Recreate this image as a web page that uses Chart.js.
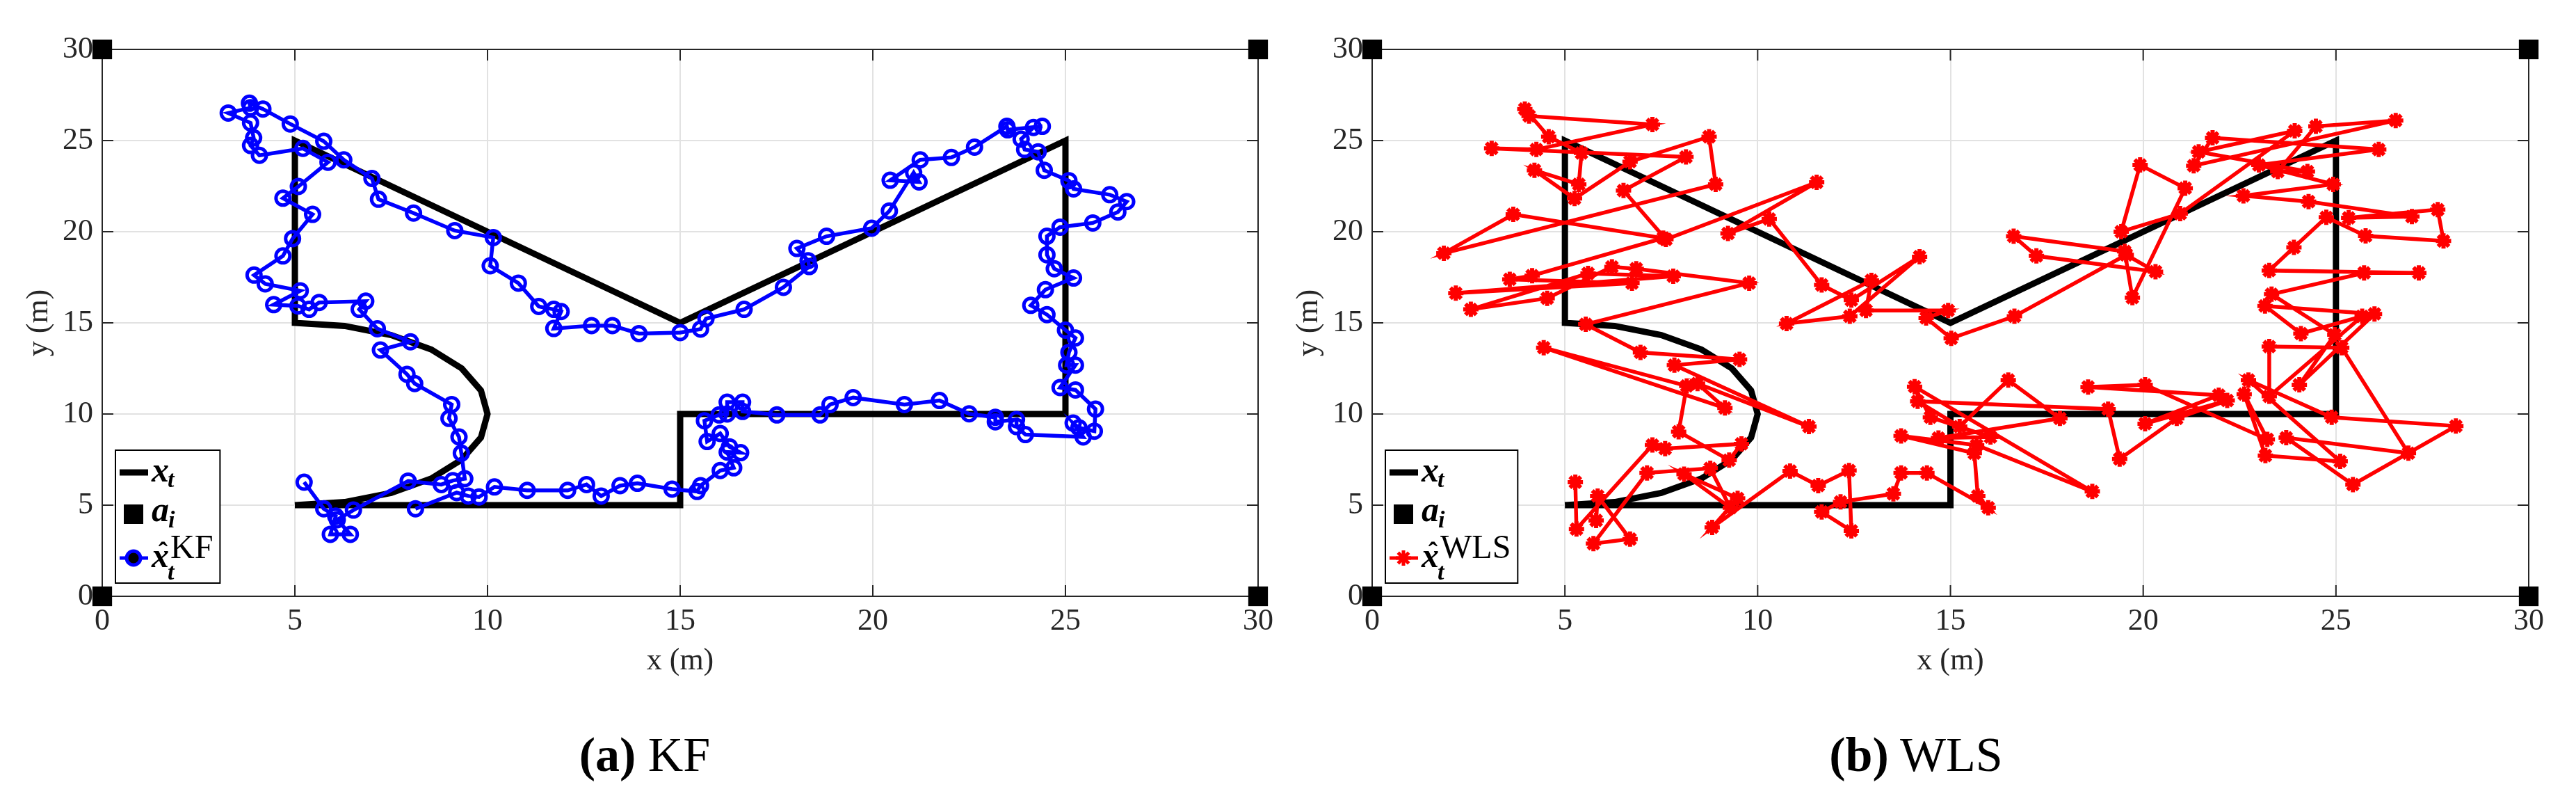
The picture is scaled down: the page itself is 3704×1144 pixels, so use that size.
<!DOCTYPE html>
<html>
<head>
<meta charset="utf-8">
<script src="https://cdn.jsdelivr.net/npm/chart.js@4.4.1/dist/chart.umd.min.js"></script>
<style>
  html, body { margin: 0; padding: 0; background: #fff; }
  body { width: 3704px; height: 1144px; position: relative; overflow: hidden; }
  canvas { position: absolute; top: 0; }
  #kf-chart { left: 0; }
  #wls-chart { left: 1860px; }
  .caption {
    position: absolute; top: 1040px; line-height: 90px;
    font-family: "Liberation Serif", "Times New Roman", serif; font-size: 70px;
    color: #000; white-space: nowrap; transform: translateX(-50%);
  }
</style>
</head>
<body>
<canvas id="kf-chart" width="1860" height="1144"></canvas>
<canvas id="wls-chart" width="1844" height="1144"></canvas>
<div class="caption" style="left:927px"><b>(a)</b> KF</div>
<div class="caption" style="left:2755px"><b>(b)</b> WLS</div>
<script>
// tick positions for both axes
const tickValues = [0, 5, 10, 15, 20, 25, 30];

// true trajectory x_t (corners + the half circle)
const truthX = [5, 15, 15, 25, 25, 15, 5, 5, 6.29, 7.5, 8.54, 9.33, 9.83, 10, 9.83, 9.33, 8.54, 7.5, 6.29, 5];
const truthY = [5, 5, 10, 10, 25, 15, 25, 15, 14.83, 14.33, 13.54, 12.5, 11.29, 10, 8.71, 7.5, 6.46, 5.67, 5.17, 5];

// anchors a_i
const anchorX = [0, 0, 30, 30];
const anchorY = [0, 30, 0, 30];

// KF estimate
const kfX = [8.13,9.20,9.50,9.78,10.18,11.03,12.08,12.57,12.95,13.44,
  13.89,14.79,15.44,15.53,16.04,16.39,16.22,16.57,16.28,16.04,
  15.70,15.63,16.01,16.22,16.22,16.62,16.62,17.51,18.63,18.89,
  19.49,20.82,21.73,22.50,23.18,23.18,23.73,23.73,23.96,25.46,
  25.20,25.35,25.75,25.78,25.26,24.86,25.26,25.03,25.09,25.26,
  25.00,24.52,24.10,24.48,25.21,24.71,24.52,24.52,24.86,25.71,
  26.36,26.59,26.15,25.21,25.09,24.45,24.29,23.94,23.85,24.17,
  24.40,23.50,23.48,22.64,22.04,21.23,20.45,21.20,21.06,20.43,
  19.97,18.80,18.03,18.32,18.35,17.68,16.66,15.67,15.53,15.00,
  13.93,13.24,12.70,11.72,11.91,11.72,11.33,10.80,10.07,10.15,
  9.15,8.08,7.17,7.00,6.27,5.75,4.88,4.17,3.82,3.85,
  3.27,3.85,3.93,3.85,4.08,5.21,5.86,5.09,4.69,5.46,
  4.94,4.69,3.94,4.23,5.14,4.45,5.08,5.37,5.63,6.84,
  6.67,7.14,8.00,7.22,7.91,8.11,9.07,9.00,9.26,9.32,
  9.41,9.10,8.80,7.94,6.52,6.10,6.44,5.92,6.06,5.75,
  5.24];
const kfY = [4.80,5.69,5.50,5.45,6.00,5.81,5.81,6.13,5.50,6.07,
  6.20,5.88,5.75,6.07,6.90,7.05,7.91,7.88,8.20,8.93,
  8.49,9.63,9.95,10.00,10.65,10.65,10.14,9.95,9.95,10.52,
  10.90,10.52,10.74,10.01,9.82,9.57,9.69,9.31,8.87,8.74,
  9.50,9.25,9.06,10.27,11.32,11.45,12.68,12.68,13.38,14.17,
  14.60,15.45,15.96,16.82,17.46,17.97,18.73,19.75,20.25,20.48,
  21.08,21.65,22.03,22.35,22.80,23.37,24.38,24.51,25.08,25.72,
  25.78,25.59,25.78,24.64,24.07,23.94,22.82,22.73,23.24,21.14,
  20.19,19.75,19.08,18.41,18.09,16.95,15.74,15.23,14.66,14.47,
  14.41,14.85,14.85,14.69,15.62,15.74,15.90,17.18,18.13,19.68,
  20.06,21.02,21.78,22.92,23.94,24.96,25.91,26.73,27.05,26.80,
  26.51,25.97,25.15,24.73,24.19,24.57,23.81,22.48,21.84,20.95,
  19.62,18.67,17.62,17.14,16.76,16.00,15.93,15.74,16.12,16.19,
  15.74,14.68,13.96,13.51,12.18,11.67,10.52,9.76,8.74,7.85,
  6.45,6.35,6.13,6.32,4.73,4.20,3.40,3.40,4.40,4.80,
  6.26];

// WLS estimate
const wlsX = [5.81,5.85,6.69,5.74,7.13,8.77,9.29,8.09,9.48,8.82,
  10.84,11.57,12.37,12.43,11.66,12.15,13.52,13.72,14.39,15.98,
  15.71,15.62,13.72,15.68,18.68,14.07,14.48,16.04,14.69,17.84,
  16.50,15.24,14.15,19.09,19.39,20.87,22.18,20.05,21.96,18.57,
  20.05,23.22,22.62,23.17,25.11,22.73,24.89,28.11,25.44,23.71,
  26.88,25.15,23.27,23.27,25.68,24.09,23.16,26.00,24.05,24.97,
  23.33,25.73,27.15,23.27,23.91,24.75,25.77,27.79,27.64,25.33,
  26.97,24.29,22.60,24.93,23.00,26.11,21.80,21.31,26.55,24.48,
  23.49,24.26,21.44,23.93,20.96,19.43,19.92,21.09,19.72,19.52,
  16.64,17.23,20.32,19.56,16.66,15.02,14.37,14.94,12.81,12.95,
  10.75,12.39,14.20,12.43,11.66,10.30,9.23,11.53,7.62,6.52,
  8.14,3.10,4.26,7.27,4.07,3.96,4.58,5.43,5.36,4.21,
  5.25,6.69,8.74,8.91,1.86,3.66,7.55,4.15,3.57,6.74,
  2.17,7.81,5.60,2.56,4.54,6.22,6.85,9.78,5.54,6.96,
  9.53,7.84,11.33,8.44,9.15,4.45,8.16,7.95,9.26,9.58,
  7.60,7.27,5.30,5.27];
const wlsY = [4.16,5.50,3.14,2.89,6.77,7.02,4.86,6.70,5.37,3.78,
  6.87,6.07,6.90,3.59,4.63,5.18,5.62,6.77,6.77,4.86,
  5.50,7.85,8.80,8.29,5.75,11.50,9.82,8.74,8.68,9.76,
  11.86,9.31,10.70,10.27,7.53,9.76,10.74,9.47,11.03,11.48,
  11.60,8.61,11.09,7.72,7.40,11.86,9.82,9.34,6.13,8.70,
  7.85,13.64,13.70,10.97,15.36,14.41,15.93,15.49,11.60,14.35,
  16.57,17.74,17.74,17.87,19.14,20.79,19.77,19.49,21.21,20.76,
  20.83,21.65,21.97,22.60,23.66,24.51,25.15,23.62,26.10,25.78,
  23.30,23.30,24.38,25.53,20.99,20.00,23.66,22.39,16.38,18.92,
  19.75,18.67,17.81,18.73,15.36,14.15,15.27,15.68,15.68,17.33,
  14.96,15.36,18.63,16.25,17.08,20.70,19.90,22.71,19.58,22.26,
  24.10,24.57,24.51,25.88,26.35,26.73,25.21,24.32,22.60,23.37,
  21.82,23.84,25.21,22.60,18.82,20.95,19.65,17.59,17.39,17.18,
  16.63,17.56,17.71,15.74,16.35,18.07,17.97,17.18,14.92,13.38,
  13.00,12.68,9.31,11.67,10.33,13.64,11.54,9.03,7.47,8.36,
  8.10,8.30,3.69,6.26];

const serif = '"Liberation Serif", "Times New Roman", serif';
const tickFont = { family: serif, size: 44, lineHeight: 1 };
const textColor = '#262626';

function toPoints(xs, ys) {
    return xs.map((x, i) => ({ x: x, y: ys[i] }));
}

// box round the axes with inward ticks on all four sides
const framePlugin = {
    id: 'frame',
    beforeDatasetsDraw(chart) {
        const ctx = chart.ctx;
        const a = chart.chartArea;
        const sx = chart.scales.x, sy = chart.scales.y;
        ctx.save();
        ctx.strokeStyle = textColor;
        ctx.lineWidth = 2;
        ctx.strokeRect(a.left, a.top, a.right - a.left, a.bottom - a.top);
        ctx.beginPath();
        tickValues.forEach(v => {
            const px = sx.getPixelForValue(v);
            const py = sy.getPixelForValue(v);
            ctx.moveTo(px, a.bottom); ctx.lineTo(px, a.bottom - 16);
            ctx.moveTo(px, a.top); ctx.lineTo(px, a.top + 16);
            ctx.moveTo(a.left, py); ctx.lineTo(a.left + 16, py);
            ctx.moveTo(a.right, py); ctx.lineTo(a.right - 16, py);
        });
        ctx.stroke();
        ctx.restore();
    }
};

// legend with math style labels
const mathLegend = {
    id: 'mathLegend',
    afterDraw(chart, args, o) {
        const ctx = chart.ctx;
        const a = chart.chartArea;
        const left = a.left + 19, top = a.bottom - 210, h = 191;
        const tx = left + 52;
        ctx.save();
        ctx.font = '48px ' + serif;
        const supW = ctx.measureText(o.sup).width;
        ctx.font = 'bold italic 50px ' + serif;
        const xW = ctx.measureText('x').width;
        const boxW = tx + xW + 1 + supW + 11 - left;

        ctx.fillStyle = '#fff';
        ctx.fillRect(left, top, boxW, h);
        ctx.strokeStyle = '#000';
        ctx.lineWidth = 2;
        ctx.strokeRect(left, top, boxW, h);

        // x_t
        ctx.lineWidth = 9;
        ctx.beginPath();
        ctx.moveTo(left + 6, top + 32); ctx.lineTo(left + 47, top + 32);
        ctx.stroke();
        ctx.fillStyle = '#000';
        ctx.textAlign = 'left';
        ctx.textBaseline = 'alphabetic';
        ctx.font = 'bold italic 50px ' + serif;
        ctx.fillText('x', tx, top + 45);
        ctx.font = 'bold italic 34px ' + serif;
        ctx.fillText('t', tx + xW - 2, top + 53);

        // a_i
        ctx.fillRect(left + 12, top + 78, 28, 28);
        ctx.font = 'bold italic 50px ' + serif;
        const aW = ctx.measureText('a').width;
        ctx.fillText('a', tx, top + 102);
        ctx.font = 'bold italic 34px ' + serif;
        ctx.fillText('i', tx + aW - 1, top + 111);

        // estimate
        const ly = top + 155;
        ctx.strokeStyle = o.color;
        ctx.lineWidth = 5;
        ctx.beginPath();
        ctx.moveTo(left + 6, ly); ctx.lineTo(left + 47, ly);
        ctx.stroke();
        Chart.helpers.drawPoint(ctx, {
            pointStyle: o.marker, radius: o.radius, borderWidth: o.markerWidth, rotation: 0
        }, left + 26, ly);
        ctx.fillStyle = '#000';
        ctx.font = 'bold italic 50px ' + serif;
        ctx.fillText('x', tx, top + 168);
        ctx.textAlign = 'center';
        ctx.font = 'bold 40px ' + serif;
        ctx.fillText('\u02C6', tx + xW / 2 + 4, top + 160);
        ctx.textAlign = 'left';
        ctx.font = 'bold italic 34px ' + serif;
        ctx.fillText('t', tx + xW - 2, top + 186);
        ctx.font = '48px ' + serif;
        ctx.fillText(o.sup, tx + xW + 2, top + 155);
        ctx.restore();
    }
};

function makeChart(id, est, opts) {
    const ctx = document.getElementById(id).getContext('2d');
    return new Chart(ctx, {
        type: 'scatter',
        data: {
            datasets: [
                {
                    data: toPoints(anchorX, anchorY),
                    pointStyle: 'rect',
                    pointRadius: 20,
                    pointBackgroundColor: '#000',
                    pointBorderWidth: 0,
                    showLine: false,
                    clip: false,
                    order: 0
                },
                {
                    data: toPoints(est.x, est.y),
                    showLine: true,
                    borderColor: est.color,
                    borderWidth: 5.5,
                    pointStyle: est.marker,
                    pointRadius: est.radius,
                    pointBorderWidth: est.markerWidth,
                    pointBorderColor: est.color,
                    pointBackgroundColor: est.fill,
                    order: 1
                },
                {
                    data: toPoints(truthX, truthY),
                    showLine: true,
                    borderColor: '#000',
                    borderWidth: 9,
                    pointRadius: 0,
                    order: 2
                }
            ]
        },
        options: {
            responsive: false,
            animation: false,
            devicePixelRatio: 1,
            events: [],
            layout: { padding: { left: 0, right: opts.padRight, top: 71, bottom: 157 } },
            scales: {
                x: {
                    type: 'linear',
                    min: 0,
                    max: 30,
                    afterBuildTicks: s => { s.ticks = tickValues.map(v => ({ value: v })); },
                    afterFit: s => { s.height = 130; },
                    ticks: { font: tickFont, color: textColor, padding: 14, maxRotation: 0, autoSkip: false },
                    grid: { color: '#e2e2e2', lineWidth: 2, drawTicks: false },
                    border: { display: false },
                    title: { display: true, text: 'x (m)', font: tickFont, color: textColor,
                             padding: { top: 0, bottom: 15 } }
                },
                y: {
                    type: 'linear',
                    min: 0,
                    max: 30,
                    afterBuildTicks: s => { s.ticks = tickValues.map(v => ({ value: v })); },
                    afterFit: s => { s.width = opts.yWidth; },
                    ticks: { font: tickFont, color: textColor, padding: 13, autoSkip: false },
                    grid: { color: '#e2e2e2', lineWidth: 2, drawTicks: false },
                    border: { display: false },
                    title: { display: true, text: 'y (m)', font: tickFont, color: textColor,
                             padding: { top: opts.yTitlePad, bottom: 0 } }
                }
            },
            plugins: {
                legend: { display: false },
                tooltip: { enabled: false },
                mathLegend: {
                    sup: est.sup, color: est.color, marker: est.marker,
                    radius: est.radius, markerWidth: est.markerWidth
                }
            }
        },
        plugins: [framePlugin, mathLegend]
    });
}

const kfChart = makeChart('kf-chart', {
    x: kfX, y: kfY, color: '#0000ff', marker: 'circle', radius: 10, markerWidth: 5,
    fill: 'rgba(0,0,0,0)', sup: 'KF'
}, { padRight: 51, yWidth: 147, yTitlePad: 34 });

const wlsChart = makeChart('wls-chart', {
    x: wlsX, y: wlsY, color: '#ff0000', marker: 'star', radius: 11, markerWidth: 6,
    fill: '#ff0000', sup: 'WLS'
}, { padRight: 68, yWidth: 113, yTitlePad: 0 });
</script>
</body>
</html>
